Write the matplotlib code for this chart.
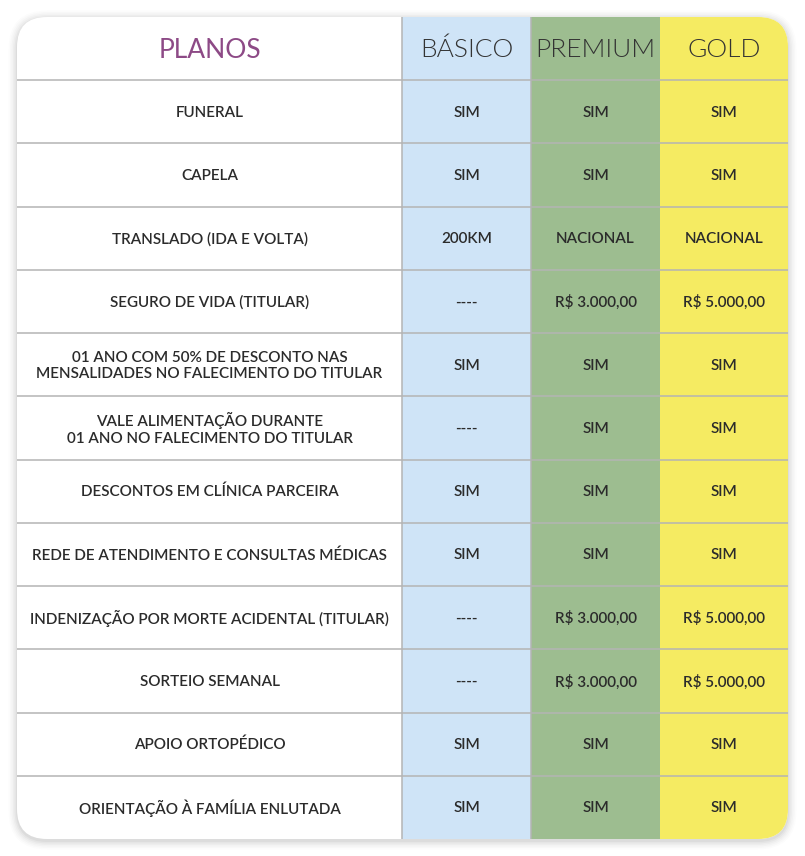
import matplotlib.pyplot as plt
from matplotlib.patches import FancyBboxPatch, Rectangle

plt.rcParams['font.family'] = ['Lato', 'DejaVu Sans']

# dados da tabela
planos = ["BÁSICO", "PREMIUM", "GOLD"]
beneficios = [
    "FUNERAL",
    "CAPELA",
    "TRANSLADO (IDA E VOLTA)",
    "SEGURO DE VIDA (TITULAR)",
    "01 ANO COM 50% DE DESCONTO NAS\nMENSALIDADES NO FALECIMENTO DO TITULAR",
    "VALE ALIMENTAÇÃO DURANTE\n01 ANO NO FALECIMENTO DO TITULAR",
    "DESCONTOS EM CLÍNICA PARCEIRA",
    "REDE DE ATENDIMENTO E CONSULTAS MÉDICAS",
    "INDENIZAÇÃO POR MORTE ACIDENTAL (TITULAR)",
    "SORTEIO SEMANAL",
    "APOIO ORTOPÉDICO",
    "ORIENTAÇÃO À FAMÍLIA ENLUTADA",
]
basico = ["SIM", "SIM", "200KM", "----", "SIM", "----", "SIM", "SIM", "----", "----", "SIM", "SIM"]
premium = ["SIM", "SIM", "NACIONAL", "R$ 3.000,00", "SIM", "SIM", "SIM", "SIM",
           "R$ 3.000,00", "R$ 3.000,00", "SIM", "SIM"]
gold = ["SIM", "SIM", "NACIONAL", "R$ 5.000,00", "SIM", "SIM", "SIM", "SIM",
        "R$ 5.000,00", "R$ 5.000,00", "SIM", "SIM"]

cores = ["#cfe4f7", "#9dbd90", "#f5eb62"]

# layout (em pixels)
W, H = 805, 856
x0, x1 = 17, 788
y0, y1 = 17, 839
col_bordas = [x0, 402, 531, 660, x1]
n_linhas = len(beneficios) + 1
alt = (y1 - y0) / n_linhas

fig = plt.figure(figsize=(W / 100, H / 100), dpi=100)
ax = fig.add_axes([0, 0, 1, 1])
ax.set_xlim(0, W)
ax.set_ylim(H, 0)
ax.axis('off')

# sombra do cartão
for i, a in enumerate([0.035, 0.03, 0.025, 0.02, 0.015, 0.01]):
    s = 1 + i * 1.5
    sombra = FancyBboxPatch((x0 - s, y0 - s + 2), x1 - x0 + 2 * s, y1 - y0 + 2 * s,
                            boxstyle=f"round,pad=0,rounding_size={30 + s}",
                            fc='black', ec='none', alpha=a)
    ax.add_patch(sombra)

cartao = FancyBboxPatch((x0, y0), x1 - x0, y1 - y0,
                        boxstyle="round,pad=0,rounding_size=30",
                        fc='white', ec='none')
ax.add_patch(cartao)

# colunas coloridas
for j, cor in enumerate(cores):
    r = Rectangle((col_bordas[j + 1], y0), col_bordas[j + 2] - col_bordas[j + 1], y1 - y0,
                  fc=cor, ec='none')
    ax.add_patch(r)
    r.set_clip_path(cartao)

# linhas da grade
for i in range(1, n_linhas):
    y = y0 + i * alt
    ax.plot([x0, x1], [y, y], color='#b4b4b4', lw=1.1, solid_capstyle='butt')
for x in col_bordas[1:3]:
    ax.plot([x, x], [y0, y1], color='#b4b4b4', lw=1.1, solid_capstyle='butt')

centros = [(col_bordas[k] + col_bordas[k + 1]) / 2 for k in range(4)]

# cabeçalho
ym = y0 + alt / 2 + 1.5
ax.text(centros[0], ym, "PLANOS", ha='center', va='center', fontsize=19,
        color='#8d4a86')
for j, p in enumerate(planos):
    ax.text(centros[j + 1], ym, p, ha='center', va='center', fontsize=19,
            color='#333333', fontweight=300)

# corpo
for i, b in enumerate(beneficios):
    ym = y0 + (i + 1.5) * alt + 1
    ax.text(centros[0], ym, b, ha='center', va='center', fontsize=11,
            color='#2b2b2b', fontweight='semibold', linespacing=1.2)
    for j, col in enumerate([basico, premium, gold]):
        ax.text(centros[j + 1], ym, col[i], ha='center', va='center', fontsize=11,
                color='#2b2b2b', fontweight='semibold')

fig.savefig('out.png', dpi=100)
